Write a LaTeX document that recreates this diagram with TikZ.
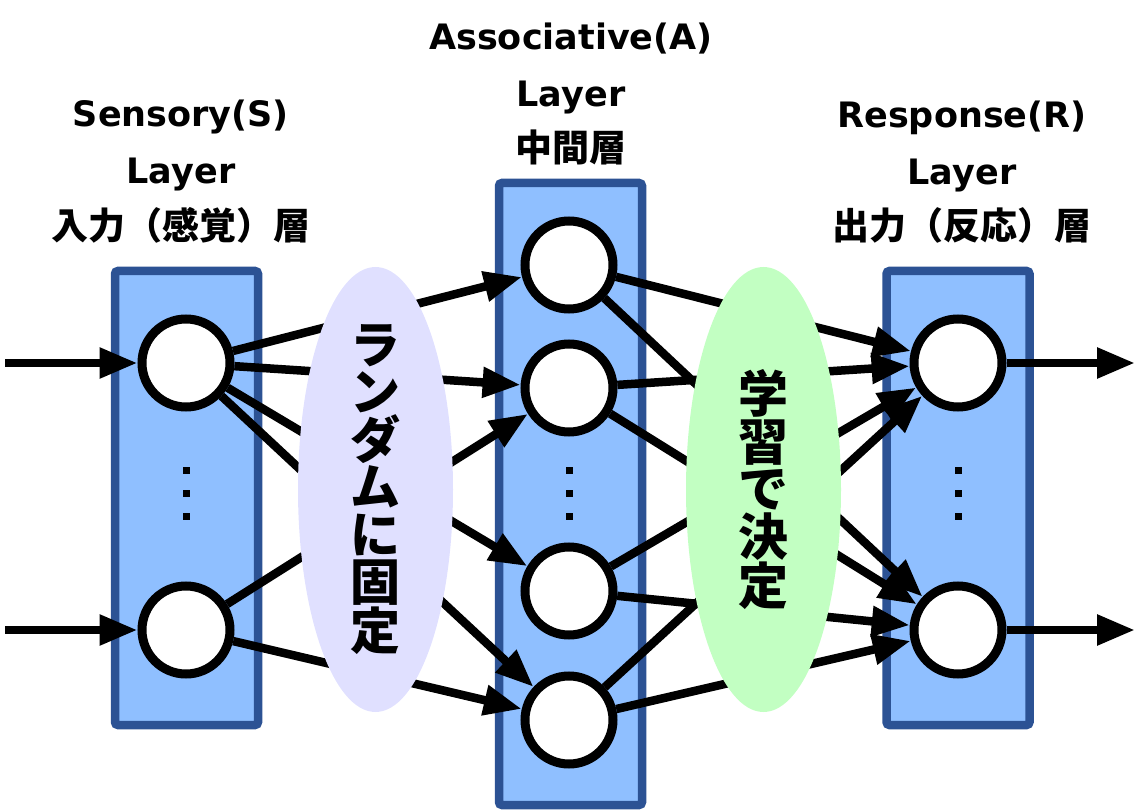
\documentclass[tikz,border=0pt]{standalone}
\usepackage{fontspec}
\setmainfont{DejaVu Sans}
\newfontfamily\jp{Noto Sans CJK JP}
\usetikzlibrary{arrows.meta,shapes.geometric,positioning}
\definecolor{layerfill}{HTML}{8FBFFF}
\definecolor{layerline}{HTML}{2C5294}
\definecolor{randfill}{HTML}{E0E0FF}
\definecolor{learnfill}{HTML}{C2FFC2}

\begin{document}
\begin{tikzpicture}[x=1pt,y=-1pt,>={Triangle[length=38pt,width=29pt]},
  layer/.style={draw=layerline,fill=layerfill,line width=8.5pt,rounded corners=3pt,minimum width=143pt,inner sep=0pt},
  unit/.style={circle,draw,fill=white,line width=9pt,minimum size=88pt,inner sep=0pt},
  link/.style={->,line width=8.5pt},
  cloud/.style={ellipse,minimum width=155pt,minimum height=445pt,inner sep=0pt},
  vtext/.style={align=center,inner sep=0pt,font=\jp\bfseries\fontsize{50}{47.5}\selectfont},
  title/.style={anchor=base,inner sep=0pt,font=\bfseries\fontsize{35}{40}\selectfont},
  jtitle/.style={anchor=base,inner sep=0pt,font=\jp\bfseries\fontsize{37}{40}\selectfont}]
\useasboundingbox (0,0) rectangle (1136,810);

% layer titles
\node[title] (stitle) at (181,127) {Sensory(S)};
\node[title] (slayer) at (181,184) {Layer};
\node[jtitle] (sjp) at (181,240) {入力（感覚）層};
\node[title] (atitle) at (571,50) {Associative(A)};
\node[title] (alayer) at (571,107) {Layer};
\node[jtitle] (ajp) at (571,162) {中間層};
\node[title] (rtitle) at (962,128) {Response(R)};
\node[title] (rlayer) at (962,185) {Layer};
\node[jtitle] (rjp) at (962,240) {出力（反応）層};

% layers
\node[layer,minimum height=454pt] (sbox) at (186.5,498) {};
\node[layer,minimum height=622pt] (abox) at (570.5,494) {};
\node[layer,minimum height=454pt] (rbox) at (958,498) {};

\node[unit] (S1) at (186,363) {};
\node[unit] (S2) at (186,630) {};
\node[unit] (A1) at (569,265) {};
\node[unit] (A2) at (569,388) {};
\node[unit] (A3) at (569,591) {};
\node[unit] (A4) at (569,720) {};
\node[unit] (R1) at (958,363) {};
\node[unit] (R2) at (958,630) {};

\foreach \x in {186,569,958}
  \foreach \y in {470.5,493,516.5}
    \fill (\x-3.5,\y-3.5) rectangle (\x+3.5,\y+3.5);

% input and output
\coordinate (in1) at (5,363);
\coordinate (in2) at (5,630);
\coordinate (out1) at (1135,363);
\coordinate (out2) at (1135,630);
\draw[link] (in1) -- (S1);
\draw[link] (in2) -- (S2);
\draw[link] (R1) -- (out1);
\draw[link] (R2) -- (out2);

% connections
\foreach \a in {A1,A2,A3,A4}
  \draw[link] (S1) -- (\a);
\draw[link] (S2) -- (A2);
\draw[link] (S2) -- (A4);
\foreach \a in {A1,A2,A3,A4}
  \foreach \r in {R1,R2}
    \draw[link] (\a) -- (\r);

\node[cloud,fill=randfill] (rand) at (375.5,489.5) {};
\node[vtext] (randtxt) at (rand) {ラ\\ン\\ダ\\ム\\に\\固\\定};
\node[cloud,fill=learnfill] (learn) at (763.5,489.5) {};
\node[vtext] (learntxt) at (learn) {学\\習\\で\\決\\定};
\end{tikzpicture}
\end{document}
